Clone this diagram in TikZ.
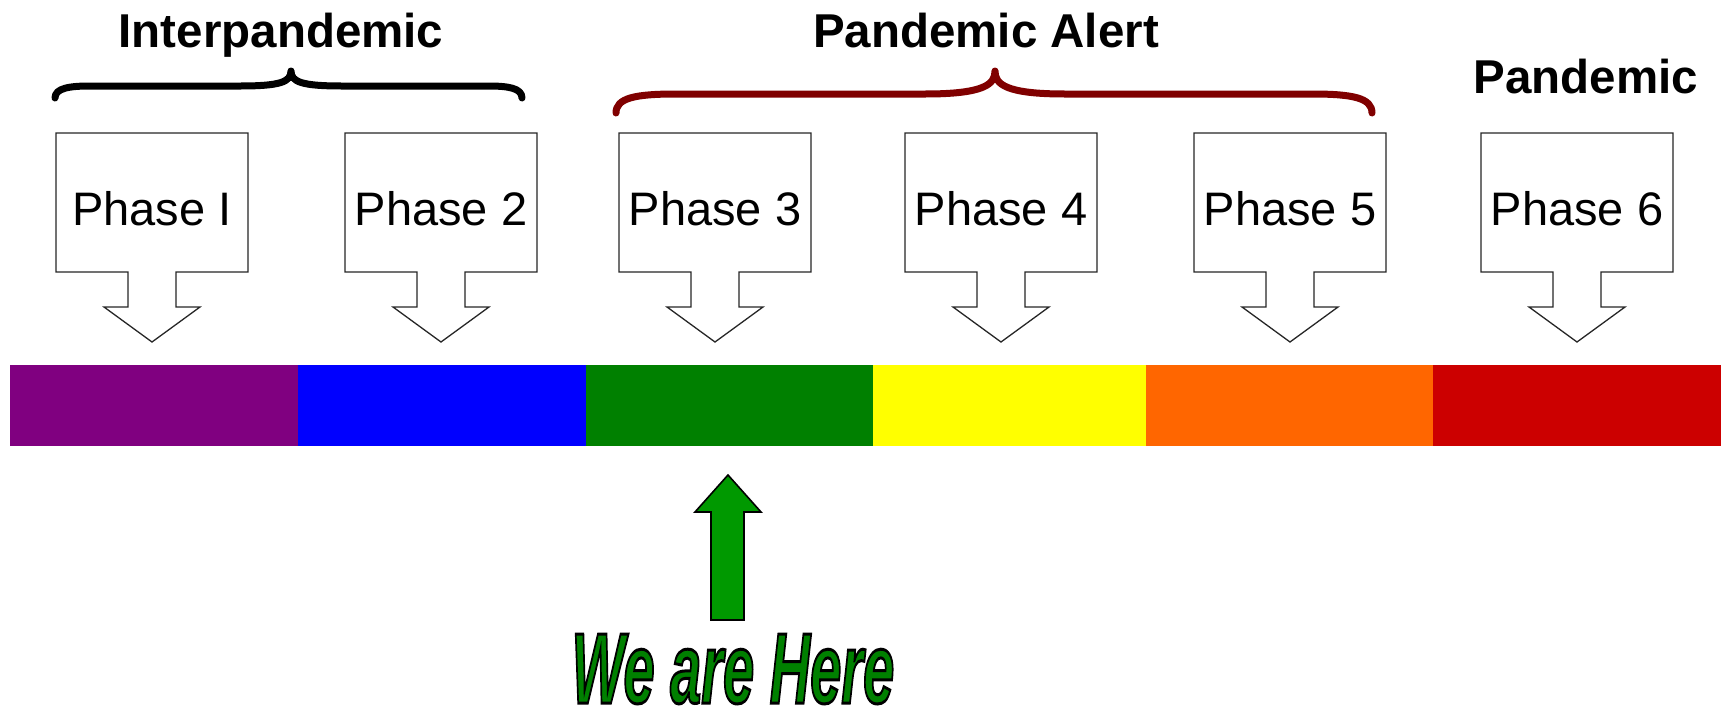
\documentclass[tikz,border=0pt]{standalone}
\usepackage{fontspec}
\setmainfont{Liberation Sans}
\usepackage{graphicx}
\definecolor{cPurple}{HTML}{800080}
\definecolor{cBlue}{HTML}{0000FF}
\definecolor{cGreen}{HTML}{008000}
\definecolor{cYellow}{HTML}{FFFF00}
\definecolor{cOrange}{HTML}{FF6600}
\definecolor{cRed}{HTML}{CC0000}
\definecolor{braceRed}{HTML}{800000}
\definecolor{arrowGreen}{HTML}{009900}
\newcommand{\outlinedtext}[1]{\special{pdf:literal direct 0 0 0 RG 2 Tr 3 w}#1\special{pdf:literal direct 0 Tr}}
\tikzset{
  phaseshape/.style={draw=black!85, line width=1.3pt, fill=white, line join=miter},
  phaselabel/.style={font=\fontsize{47}{52}\selectfont, anchor=base, inner sep=0pt},
  headlabel/.style={font=\fontsize{47.5}{52}\selectfont\bfseries, anchor=base, inner sep=0pt},
  bracestyle/.style={line width=7pt, line cap=round, line join=round},
  barseg/.style={draw=none, inner sep=0pt, minimum height=81pt, anchor=north west},
}
\begin{document}
\begin{tikzpicture}[x=1pt, y=-1pt]
\useasboundingbox (0,0) rectangle (1725,710);

% phase boxes with down arrows
\foreach \cx/\lab/\n in {152/Phase I/1, 441/Phase 2/2, 715/Phase 3/3, 1001/Phase 4/4, 1290/Phase 5/5, 1577/Phase 6/6}{
  \draw[phaseshape] (\cx-96,133) -- (\cx+96,133) -- (\cx+96,272) -- (\cx+24,272) -- (\cx+24,307)
     -- (\cx+48,307) -- (\cx,342) -- (\cx-48,307) -- (\cx-24,307) -- (\cx-24,272)
     -- (\cx-96,272) -- cycle;
  \node[phaselabel] (p\n) at (\cx,225) {\lab};
}

% headings
\node[headlabel] (hInter) at (281,47) {Interpandemic};
\node[headlabel] (hAlert) at (986,47) {Pandemic Alert};
\node[headlabel] (hPand) at (1586,93) {Pandemic};

% black brace
\draw[bracestyle, black] (55,98) .. controls (55,88) and (70,86) .. (90,86) -- (240,86)
   .. controls (280,86) and (291,82) .. (291,71)
   .. controls (291,82) and (302,86) .. (342,86) -- (488,86)
   .. controls (508,86) and (522,88) .. (522,98);

% red brace
\draw[bracestyle, braceRed] (616,113) .. controls (616,98) and (635,94) .. (676,94) -- (925,94)
   .. controls (985,94) and (995,84) .. (995,71)
   .. controls (995,84) and (1005,94) .. (1065,94) -- (1312,94)
   .. controls (1353,94) and (1372,98) .. (1372,113);

% colour bar
\node[barseg, fill=cPurple, minimum width=288pt] (s1) at (10,365) {};
\node[barseg, fill=cBlue, minimum width=288pt] (s2) at (298,365) {};
\node[barseg, fill=cGreen, minimum width=287pt] (s3) at (586,365) {};
\node[barseg, fill=cYellow, minimum width=273pt] (s4) at (873,365) {};
\node[barseg, fill=cOrange, minimum width=287pt] (s5) at (1146,365) {};
\node[barseg, fill=cRed, minimum width=288pt] (s6) at (1433,365) {};

% green arrow
\draw[fill=arrowGreen, draw=black, line width=1.6pt, line join=miter]
  (728,475) -- (761,512) -- (744,512) -- (744,620) -- (711,620) -- (711,512) -- (695,512) -- cycle;

% We are Here
\node[anchor=base, inner sep=0pt] (here) at (733,703)
  {\scalebox{0.56}[1]{\fontsize{100}{106}\selectfont\bfseries\itshape\color{cGreen}\outlinedtext{We are Here}}};
\end{tikzpicture}
\end{document}
